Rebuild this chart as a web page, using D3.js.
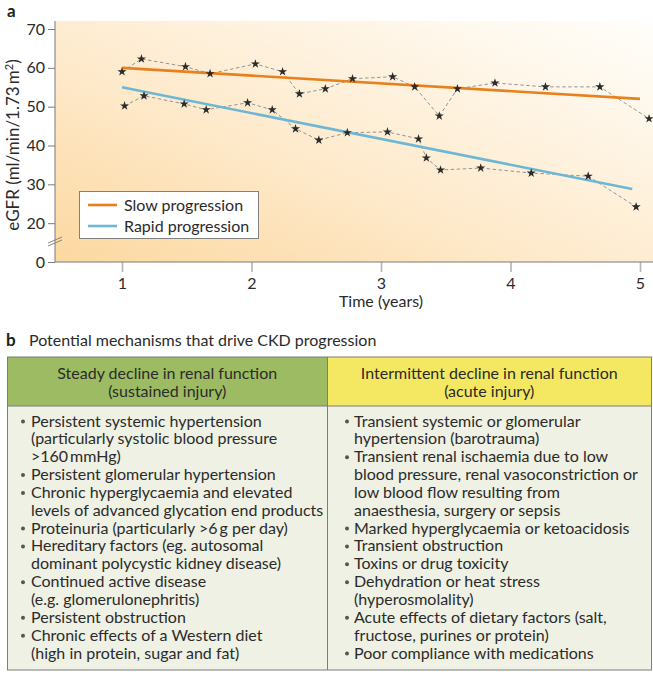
<!DOCTYPE html>
<html><head><meta charset="utf-8">
<script src="https://cdn.jsdelivr.net/npm/d3@7"></script>
<style>
html,body{margin:0;padding:0;background:#fff;}
svg{display:block;font-family:Lato,"Open Sans",sans-serif;}
</style></head>
<body>
<svg id="c" width="653" height="685"></svg>
<script>
// ---- data ----
const slowX = [1.0, 1.15, 1.49, 1.68, 2.03, 2.24, 2.37, 2.57, 2.78, 3.09, 3.26, 3.45, 3.59, 3.88, 4.27, 4.69, 5.07];
const slowY = [59.0, 62.3, 60.3, 58.5, 61.0, 59.0, 53.3, 54.6, 57.2, 57.7, 55.1, 47.6, 54.6, 56.1, 55.1, 55.1, 46.9];
const rapidX = [1.02, 1.17, 1.48, 1.65, 1.97, 2.16, 2.34, 2.52, 2.74, 3.05, 3.29, 3.35, 3.46, 3.77, 4.16, 4.60, 4.97];
const rapidY = [50.2, 52.8, 50.7, 49.2, 51.0, 49.2, 44.3, 41.4, 43.3, 43.5, 41.7, 36.8, 33.7, 34.2, 32.9, 32.1, 24.2];
const slowTrendX = [1, 5];
const slowTrendY = [60, 52];
const rapidTrendX = [1, 4.94];
const rapidTrendY = [55, 28.8];
const xTicks = [1, 2, 3, 4, 5];
const yTicks = [10, 20, 30, 40, 50, 60, 70];
const yTickLabels = ["0", "20", "30", "40", "50", "60", "70"];
const seriesNames = ["Slow progression", "Rapid progression"];
const headers = [["Steady decline in renal function", "(sustained injury)"],
                 ["Intermittent decline in renal function", "(acute injury)"]];
const leftItems = [
  ["Persistent systemic hypertension", "(particularly systolic blood pressure", ">160\u2009mmHg)"],
  ["Persistent glomerular hypertension"],
  ["Chronic hyperglycaemia and elevated", "levels of advanced glycation end products"],
  ["Proteinuria (particularly >6\u2009g per day)"],
  ["Hereditary factors (eg. autosomal", "dominant polycystic kidney disease)"],
  ["Continued active disease", "(e.g. glomerulonephritis)"],
  ["Persistent obstruction"],
  ["Chronic effects of a Western diet", "(high in protein, sugar and fat)"]
];
const rightItems = [
  ["Transient systemic or glomerular", "hypertension (barotrauma)"],
  ["Transient renal ischaemia due to low", "blood pressure, renal vasoconstriction or", "low blood flow resulting from", "anaesthesia, surgery or sepsis"],
  ["Marked hyperglycaemia or ketoacidosis"],
  ["Transient obstruction"],
  ["Toxins or drug toxicity"],
  ["Dehydration or heat stress", "(hyperosmolality)"],
  ["Acute effects of dietary factors (salt,", "fructose, purines or protein)"],
  ["Poor compliance with medications"]
];

// ---- layout ----
const svg = d3.select("#c");
const plotL = 55, plotR = 653, plotT = 21, plotB = 262;
const x = d3.scaleLinear().domain([1, 5]).range([122, 640]);
const y = d3.scaleLinear().domain([10, 70]).range([262, 29]);
const slowColor = "#e8801e", rapidColor = "#6db7d5";
const axisColor = "#7a7a7a";
const txt = "#2b2b2b";

const defs = svg.append("defs");
const grad = defs.append("linearGradient").attr("id", "bg")
  .attr("x1", 0).attr("y1", 1).attr("x2", 1).attr("y2", 0);
grad.append("stop").attr("offset", 0).attr("stop-color", "#fcd8a0");
grad.append("stop").attr("offset", 0.45).attr("stop-color", "#feebce");
grad.append("stop").attr("offset", 1).attr("stop-color", "#fffefb");

svg.append("rect").attr("x", plotL).attr("y", plotT)
  .attr("width", plotR - plotL).attr("height", plotB - plotT).attr("fill", "url(#bg)");

svg.append("text").attr("x", 7).attr("y", 17).attr("font-weight", "bold")
  .attr("font-size", 17).attr("fill", "#222").text("a");

// y axis
const yAxis = d3.axisLeft(y).tickValues(yTicks).tickSize(7).tickPadding(3)
  .tickFormat((d, i) => yTickLabels[i]);
const gy = svg.append("g").attr("transform", `translate(${plotL},0)`).call(yAxis);
gy.select(".domain").remove();
gy.selectAll(".tick line").attr("stroke", axisColor);
gy.selectAll(".tick text").attr("font-size", 16).attr("fill", txt)
  .attr("font-family", "Lato, sans-serif");
svg.append("line").attr("x1", plotL).attr("x2", plotL).attr("y1", plotT).attr("y2", plotB)
  .attr("stroke", axisColor);
// break marks
[-3, 0].forEach(o => {
  svg.append("line").attr("x1", plotL - 7).attr("x2", plotL + 7)
    .attr("y1", 246 + o).attr("y2", 240 + o)
    .attr("stroke", axisColor).attr("stroke-width", 0.9);
});

// x axis
const xAxis = d3.axisBottom(x).tickValues(xTicks).tickSize(10).tickPadding(6).tickFormat(d3.format("d"));
const gx = svg.append("g").attr("transform", `translate(0,${plotB})`).call(xAxis);
gx.select(".domain").remove();
gx.selectAll(".tick line").attr("stroke", "#b5b5b5").attr("stroke-width", 1.6);
gx.selectAll(".tick text").attr("font-size", 16).attr("fill", txt)
  .attr("font-family", "Lato, sans-serif");
svg.append("line").attr("x1", plotL).attr("x2", plotR).attr("y1", plotB).attr("y2", plotB)
  .attr("stroke", axisColor);

svg.append("text").attr("x", x(3)).attr("y", 307).attr("text-anchor", "middle")
  .attr("font-size", 16).attr("fill", txt).text("Time (years)");

const yl = svg.append("text").attr("transform", "translate(19,145) rotate(-90)")
  .attr("text-anchor", "middle").attr("font-size", 17).attr("fill", txt);
yl.append("tspan").text("eGFR (ml/min/1.73\u2009m");
yl.append("tspan").attr("font-size", 11).attr("dy", -6).text("2");
yl.append("tspan").attr("dy", 6).text(")");

// dashed observation lines
const line = d3.line().x(d => x(d[0])).y(d => y(d[1]));
const slowPts = slowX.map((v, i) => [v, slowY[i]]);
const rapidPts = rapidX.map((v, i) => [v, rapidY[i]]);
[slowPts, rapidPts].forEach(pts => {
  svg.append("path").attr("d", line(pts)).attr("fill", "none")
    .attr("stroke", "#8a8a8a").attr("stroke-width", 0.9).attr("stroke-dasharray", "3.5,2.5");
});

// trend lines
svg.append("path").attr("d", line(slowTrendX.map((v, i) => [v, slowTrendY[i]])))
  .attr("stroke", slowColor).attr("stroke-width", 2.6).attr("fill", "none");
svg.append("path").attr("d", line(rapidTrendX.map((v, i) => [v, rapidTrendY[i]])))
  .attr("stroke", rapidColor).attr("stroke-width", 2.6).attr("fill", "none");

// stars
const star = d3.symbol().type(d3.symbolStar).size(26);
[slowPts, rapidPts].forEach(pts => {
  svg.append("g").selectAll("path").data(pts).join("path")
    .attr("transform", d => `translate(${x(d[0])},${y(d[1])})`)
    .attr("d", star).attr("fill", "#2b2b2b");
});

// legend
svg.append("rect").attr("x", 79.5).attr("y", 191.5).attr("width", 179).attr("height", 47)
  .attr("fill", "#fff").attr("stroke", "#808080");
[slowColor, rapidColor].forEach((c, i) => {
  const ly = 205 + i * 21;
  svg.append("line").attr("x1", 88).attr("x2", 117).attr("y1", ly).attr("y2", ly)
    .attr("stroke", c).attr("stroke-width", 2.6);
  svg.append("text").attr("x", 124).attr("y", ly + 5.5).attr("font-size", 16)
    .attr("fill", txt).text(seriesNames[i]);
});

// ---- panel b ----
svg.append("text").attr("x", 6).attr("y", 346).attr("font-weight", "bold")
  .attr("font-size", 17).attr("fill", "#222").text("b");
svg.append("text").attr("x", 29).attr("y", 346).attr("font-size", 16)
  .attr("fill", txt).text("Potential mechanisms that drive CKD progression");

const tL = 7.5, tR = 651.5, tT = 357, tH = 406, tB = 670, tMid = 327;
svg.append("rect").attr("x", tL).attr("y", tT).attr("width", tMid - tL).attr("height", tH - tT).attr("fill", "#9dbb62");
svg.append("rect").attr("x", tMid).attr("y", tT).attr("width", tR - tMid).attr("height", tH - tT).attr("fill", "#f4e862");
svg.append("rect").attr("x", tL).attr("y", tH).attr("width", tR - tL).attr("height", tB - tH).attr("fill", "#eef1e3");
const bc = "#7d7d7d";
svg.append("rect").attr("x", tL).attr("y", tT).attr("width", tR - tL).attr("height", tB - tT)
  .attr("fill", "none").attr("stroke", bc);
svg.append("line").attr("x1", tL).attr("x2", tR).attr("y1", tH).attr("y2", tH).attr("stroke", bc);
svg.append("line").attr("x1", tMid + 0.5).attr("x2", tMid + 0.5).attr("y1", tT).attr("y2", tB).attr("stroke", bc);

const colCenters = [(tL + tMid) / 2, (tMid + tR) / 2];
headers.forEach((h, ci) => {
  h.forEach((t, li) => {
    svg.append("text").attr("x", colCenters[ci]).attr("y", 379 + li * 17.5)
      .attr("text-anchor", "middle").attr("font-size", 16).attr("fill", txt).text(t);
  });
});

function drawItems(items, bx, tx) {
  let row = 0;
  items.forEach(item => {
    const by = 421 + row * 17.85;
    svg.append("circle").attr("cx", bx).attr("cy", by + 0.5).attr("r", 2).attr("fill", "#555");
    item.forEach((t, li) => {
      svg.append("text").attr("x", tx).attr("y", 426.5 + (row + li) * 17.85)
        .attr("font-size", 16).attr("fill", txt).text(t);
    });
    row += item.length;
  });
}
drawItems(leftItems, 23, 31);
drawItems(rightItems, 347, 354);
</script>
</body></html>
